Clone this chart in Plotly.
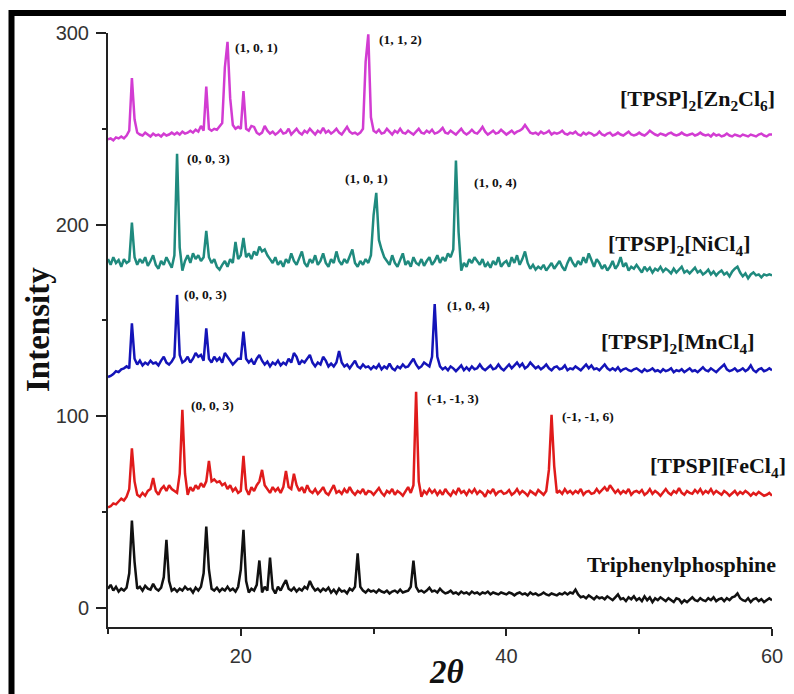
import plotly.graph_objects as go

# 2-theta sampling grid (degrees), 10.0 ... 60.0 in 0.2 steps
TWO_THETA = [round(10 + 0.2 * i, 1) for i in range(251)]

# Intensities (offset stacked patterns), rows of 5 degrees
ZN = [
    244.5, 245, 244, 245.5, 245, 246, 245, 246.5, 249, 276.5, 255, 248, 247, 246.5, 248, 247, 246, 247.5, 246.5, 247, 246, 247.5, 246.5, 247, 248,
    247, 248, 247, 248.5, 247.5, 248, 249, 248, 249.5, 248.5, 251.5, 249, 272, 250, 249, 250, 249.5, 251, 253, 282, 295.4, 266, 252, 250, 251,
    250, 269.7, 250, 249, 251.5, 251, 248, 247, 248, 251.5, 249, 247.5, 248.5, 247, 248, 249.5, 247.5, 248, 250, 247, 248.5, 250, 248, 247, 249,
    248, 250, 248.5, 247, 249, 248, 250.5, 248, 249, 247.5, 248.5, 250, 248, 247, 249, 251, 248.5, 247.5, 248, 247, 248, 250, 285, 299.3, 256,
    249, 248, 249.5, 247.5, 248, 250, 248.5, 247, 249, 248, 250, 248, 247.5, 249, 248, 247, 248.5, 250, 248, 247.5, 249, 248, 249.5, 247.5, 248,
    249, 250.5, 248, 247.5, 249, 248, 247, 248.5, 250, 248, 247, 248, 249.5, 248, 247.5, 249, 251, 248.5, 247, 248, 249, 247.5, 248, 249.5, 248,
    247, 248, 249, 247.5, 248.5, 249, 250, 252, 250, 248, 247.5, 248, 247, 248.5, 247.5, 248, 249, 247, 248, 247.5, 248, 249, 247.5, 247, 248,
    247.5, 248.5, 247, 246.5, 248, 247, 248, 247.5, 246.5, 247, 248.5, 247, 246.5, 247.5, 248, 246.5, 247, 248, 247, 246.5, 247.5, 248.5, 247, 246.5, 247,
    248, 247, 246.5, 247.5, 249, 248, 247, 246.5, 247.5, 247, 246.5, 247.5, 248, 247, 246.5, 247, 248, 247, 246.5, 247, 247.5, 246.5, 247, 248, 247,
    246.5, 247, 246, 247.5, 246.5, 247, 246, 246.5, 247.5, 246.5, 246, 247, 246.5, 246, 247, 246.5, 246, 247, 246.5, 246, 247, 247.5, 246.5, 246, 247,
    247,
]

NI = [
    182, 179, 183, 180, 181.5, 178, 182, 180, 181, 201, 183, 179, 182, 180, 183, 178.5, 181, 184, 179, 177, 181, 179, 183, 180, 177.5,
    184, 237, 188, 176, 181, 184, 180, 185, 182, 184, 181, 183, 196.7, 183, 180, 182, 178, 176.5, 179, 181, 178, 182, 180, 191, 182,
    184, 193, 183, 185, 182, 186, 184, 188.5, 186, 187, 184, 182, 180, 183, 179, 181, 178, 182, 180, 185, 181, 179, 183, 186, 180,
    178, 182, 180, 184, 179, 181, 185, 180, 178, 182, 180, 186, 181, 179, 182, 180, 184, 187, 180, 178, 181, 179, 182, 180, 184,
    205, 216.6, 192, 187, 183, 181, 179, 184, 180, 178, 182, 185, 179, 181, 178, 183, 180, 179, 182, 178.5, 181, 183, 179, 181, 184,
    180, 183, 181, 185, 183, 187, 233.4, 196, 176, 180, 178, 182, 180, 183, 181, 179, 182, 178, 180, 177.5, 181, 179, 183, 178, 180,
    181, 178, 183, 180, 184, 179, 182, 186, 180, 177, 179, 176.5, 178, 177, 179, 176, 178, 180, 177, 179, 181, 178, 176, 180, 183,
    180, 178, 181, 179, 183, 180, 185, 181, 178, 182, 180, 177, 179, 176, 178, 181, 177, 179, 183, 178, 180, 176, 178, 177, 179,
    177, 175, 178, 176, 177.5, 175, 177, 176, 178, 175.5, 177, 176, 174.5, 177, 175, 176.5, 178, 175, 176, 174.5, 176, 177.5, 175, 176, 174,
    175, 176.5, 174, 175.5, 173.5, 175, 176, 174, 175, 173, 175.5, 177, 178, 175, 173, 174.5, 172, 174, 175, 173.5, 174, 172.5, 174, 173.5, 174,
    173.5,
]

MN = [
    120.5, 121, 122, 123.5, 123, 124.5, 125, 126, 125, 148.5, 130, 127, 129, 126.5, 128, 127, 129, 127.5, 128, 126.5, 129, 131, 128, 127, 128.5,
    131, 163.3, 132, 128, 129, 131, 128, 130, 133, 131, 132, 129, 145.9, 130, 128, 131, 129, 130.5, 128, 133, 131, 129, 127, 128.5, 130,
    130, 144.1, 130, 128, 129.5, 127, 130, 132, 129, 127, 128.5, 126, 128, 127, 129, 126.5, 128, 127, 130, 128, 133, 131, 127, 129, 128,
    130, 132, 128, 126, 128, 127, 131, 129, 126, 127.5, 126, 128, 134, 128, 126, 127, 125, 127, 129, 126, 125, 127, 125.5, 126, 124.5,
    126, 125, 127, 124.5, 126, 125, 127.5, 125, 124, 126, 125, 127, 125.5, 126, 128, 130, 127, 125, 126, 128, 127, 126, 131, 158.5, 131,
    126, 124.5, 125.5, 124, 126, 125, 123.5, 125, 126.5, 124, 125.5, 124, 126, 124.5, 125, 127, 125, 124, 125.5, 126.5, 124.5, 125, 127, 125, 124,
    125.5, 127, 125, 126.5, 128, 126, 127.5, 125, 126, 128, 126.5, 125, 126, 124.5, 125.5, 127, 125, 124, 125.5, 126, 124.5, 125, 126.5, 124, 125,
    124.5, 126, 125, 124, 125.5, 127, 125, 126.5, 124.5, 125, 124, 125.5, 127, 125, 124, 125, 124, 125.5, 123.5, 124.5, 125, 124, 123.5, 124.5, 125,
    124, 123, 124.5, 123.5, 124, 125, 123.5, 124, 123, 124.5, 123.5, 124, 125, 123, 124, 123.5, 124.5, 123, 124, 125, 123.5, 124, 123, 124.5, 125.5,
    124, 123.5, 125, 124, 123, 124.5, 126, 127, 124.5, 123.5, 124, 125, 123.5, 124, 125, 123.5, 124.5, 126.5, 124, 123, 124.5, 125, 123.5, 124, 125,
    124,
]

FE = [
    52.5, 53, 54.5, 54, 55.5, 57, 56, 58, 62, 83.3, 66, 59, 58, 60, 58.5, 61, 62, 67.8, 61, 59, 62, 63.5, 61, 64, 62,
    61, 60, 70, 103.3, 70, 59, 63, 61, 64, 62, 65, 63, 66, 76.7, 66, 67, 65.5, 66, 64, 65, 62, 64, 61, 62.5, 60,
    61, 79.3, 62, 59, 63, 61, 64, 66, 72, 64, 62, 60, 63, 61, 62.5, 60, 63, 71.5, 63, 62, 70, 64, 61, 63, 60,
    64, 61, 60, 62, 59.5, 61, 63, 60, 59, 61.5, 64, 60, 61, 59.5, 62, 60, 63, 60.5, 59, 61, 60, 62, 59, 61, 60.5,
    59, 61, 62.5, 60, 58.5, 61, 60, 62, 59, 61, 60, 58.5, 61, 63, 60, 64, 112.8, 66, 58, 61, 59.5, 62, 60, 61.5, 59,
    61, 59, 62, 60, 58.5, 61, 59.5, 62.5, 60, 61, 59, 61.5, 60, 62, 59.5, 61, 60, 58, 61, 60, 62, 59, 60.5, 61, 59.5,
    60, 61.5, 59, 60, 62, 59.5, 61, 60, 58.5, 61, 60, 59, 61.5, 60, 59, 61, 72, 100.7, 74, 60, 61, 59.5, 62, 60, 61,
    59.5, 61, 60, 62, 59, 60.5, 61, 59.5, 60, 62, 60, 61.5, 63, 61, 64, 62, 60, 61.5, 59.5, 61, 60, 62, 59, 60.5, 61,
    60, 61.5, 59, 60, 62, 59.5, 61, 60, 58.5, 60.5, 62, 60, 59, 61, 60, 62.5, 60, 59, 61, 60, 59.5, 61.5, 60, 62, 59.5,
    61, 60, 62, 59.5, 61, 60, 59, 61, 60, 58.5, 60, 61, 59, 60.5, 59.5, 61, 60, 58.5, 60, 59, 60.5, 59.5, 58.5, 59, 60,
    58.5,
]

TPP = [
    10, 12, 9, 11, 8.5, 10, 9, 10.5, 18, 45.5, 24, 10, 11, 9, 11.5, 10, 9.5, 12.5, 10, 9, 10.5, 16, 35.5, 14, 9,
    10, 8.5, 10, 9, 11, 9.5, 10, 8, 10.5, 9, 11, 18, 42.4, 20, 10, 9, 10.5, 8.5, 10, 9, 11, 9, 10, 8.5, 11,
    20, 40.7, 14, 8, 10, 9, 12, 24.7, 8, 11, 9, 26.2, 10, 7.5, 11, 9, 12, 14.5, 10, 9, 10.5, 8.5, 10, 9, 11,
    10, 14, 11, 9, 10, 8.5, 10, 9, 10.5, 8, 9.5, 7.5, 10, 8.5, 9, 7.5, 10, 9, 11, 28.5, 11, 9, 8, 9.5, 8.5,
    9, 8, 9.5, 8.5, 8, 9, 7.5, 8.5, 9, 8, 9.5, 8, 8.5, 9, 11, 24.7, 11, 8.5, 9, 8, 9, 10.5, 8.5, 9, 8,
    10, 8.5, 7.5, 8, 9, 7.5, 8, 7, 8.5, 7.5, 8, 7, 8.5, 7.5, 8, 7, 8, 7.5, 8.5, 7, 8, 7.5, 7, 8, 7.5,
    7, 8, 7.5, 6.5, 7.5, 8, 7, 7.5, 6.5, 8, 7, 7.5, 6.5, 7, 8, 7, 6.5, 7.5, 7, 6.5, 7.5, 7, 8, 7, 8,
    7.5, 9.5, 7, 5.5, 6, 5, 6.5, 5.5, 4.5, 6, 5, 5.5, 4.5, 6, 5, 4, 5.5, 7, 4.5, 5, 3.5, 5.5, 4.5, 6, 4,
    5, 3.5, 6, 4, 5.5, 3, 5, 4, 5.5, 4.5, 3.5, 5, 4, 3, 5, 4.5, 2.5, 4, 3, 4.5, 5.5, 4, 3.5, 5, 4,
    3.5, 5, 4, 5.5, 3.5, 4.5, 5, 3.5, 5, 4, 5.5, 6, 7.5, 5, 4, 3.5, 5, 3, 4.5, 5, 3.5, 4.5, 3, 4, 5,
    4,
]

SERIES_NAMES = ["[TPSP]<sub>2</sub>[Zn<sub>2</sub>Cl<sub>6</sub>]",
                "[TPSP]<sub>2</sub>[NiCl<sub>4</sub>]",
                "[TPSP]<sub>2</sub>[MnCl<sub>4</sub>]",
                "[TPSP][FeCl<sub>4</sub>]",
                "Triphenylphosphine"]
SERIES_COLORS = ["#D23CD2", "#1F8A7E", "#1414B8", "#E01B1B", "#111111"]

# label right-edge positions (page px) and vertical centres (data units)
NAME_RIGHT_PX = [777, 753, 757, 788, 778]
NAME_Y = [265, 189.4, 138.2, 73.6, 22.4]

# Miller index labels: text, x (left edge), y
HKL_TEXT = ["(1, 0, 1)", "(1, 1, 2)", "(0, 0, 3)", "(1, 0, 1)", "(1, 0, 4)",
            "(0, 0, 3)", "(1, 0, 4)", "(0, 0, 3)", "(-1, -1, 3)", "(-1, -1, 6)"]
HKL_X = [19.41, 30.26, 15.8, 27.7, 37.4, 15.57, 35.38, 16.1, 33.87, 44.04]
HKL_Y = [292.6, 296.8, 234.7, 224.3, 222.2, 163.3, 158.0, 105.4, 109.0, 99.6]

for nm, arr in zip(["ZN", "NI", "MN", "FE", "TPP"], [ZN, NI, MN, FE, TPP]):
    assert len(arr) == len(TWO_THETA), (nm, len(arr))

SERIF = "Times New Roman, Liberation Serif, serif"
SANS = "Arial, Liberation Sans, sans-serif"

# plot area in page pixels (page has an 8px body margin)
PX_L, PX_R, PX_T, PX_B = 108, 772, 33, 627
W_PA, H_PA = PX_R - PX_L, PX_B - PX_T


def px_to_paper_x(px):
    return (px - PX_L) / W_PA


def px_to_paper_y(py):
    return (PX_B - py) / H_PA


fig = go.Figure()
for arr, col in zip([ZN, NI, MN, FE, TPP], SERIES_COLORS):
    fig.add_trace(go.Scatter(x=TWO_THETA, y=arr, mode="lines",
                             line=dict(color=col, width=2.5), hoverinfo="skip"))

for name, rx, y in zip(SERIES_NAMES, NAME_RIGHT_PX, NAME_Y):
    fig.add_annotation(xref="paper", yref="y", x=px_to_paper_x(rx), y=y,
                       text="<b>" + name + "</b>", showarrow=False,
                       xanchor="right", yanchor="middle",
                       font=dict(family=SERIF, size=22, color="#111"))

for t, x, y in zip(HKL_TEXT, HKL_X, HKL_Y):
    fig.add_annotation(x=x, y=y, text="<b>" + t + "</b>", showarrow=False,
                       xanchor="left", yanchor="middle",
                       font=dict(family=SERIF, size=13.5, color="#111"))

# axis titles
fig.add_annotation(xref="paper", yref="paper", x=px_to_paper_x(38), y=px_to_paper_y(330),
                   text="<b>Intensity</b>", textangle=-90, showarrow=False,
                   xanchor="center", yanchor="middle",
                   font=dict(family=SERIF, size=33, color="#111"))
fig.add_annotation(xref="paper", yref="paper", x=px_to_paper_x(446), y=px_to_paper_y(672),
                   text="<b><i>2θ</i></b>", showarrow=False,
                   xanchor="center", yanchor="middle",
                   font=dict(family=SERIF, size=33, color="#111"))

# outer black frame of the figure
fig.add_shape(type="rect", xref="paper", yref="paper",
              x0=px_to_paper_x(11.5), x1=px_to_paper_x(805),
              y0=px_to_paper_y(705), y1=px_to_paper_y(13),
              line=dict(color="#000", width=6), layer="above")

axis_common = dict(showline=True, linecolor="#222", linewidth=2, ticks="outside",
                   tickwidth=2, tickcolor="#222", showgrid=False, zeroline=False,
                   tickfont=dict(family=SANS, size=20, color="#333"))

FIG_W, FIG_H = 786, 686
OFF = 8
fig.update_layout(
    width=FIG_W, height=FIG_H,
    margin=dict(l=PX_L - OFF, r=FIG_W - (PX_R - OFF), t=PX_T - OFF, b=FIG_H - (PX_B - OFF)),
    plot_bgcolor="white", paper_bgcolor="white",
    showlegend=False,
    xaxis=dict(range=[10, 60], tick0=0, dtick=20, ticklen=7, ticklabelstandoff=3,
               minor=dict(dtick=10, tick0=0, ticklen=5, tickwidth=2, tickcolor="#222", ticks="outside"),
               **axis_common),
    yaxis=dict(range=[-10, 300], tick0=0, dtick=100, ticklen=10, ticklabelstandoff=3,
               minor=dict(dtick=50, tick0=0, ticklen=4, tickwidth=2, tickcolor="#222", ticks="outside"),
               **axis_common),
)

fig.write_html("out.html")
